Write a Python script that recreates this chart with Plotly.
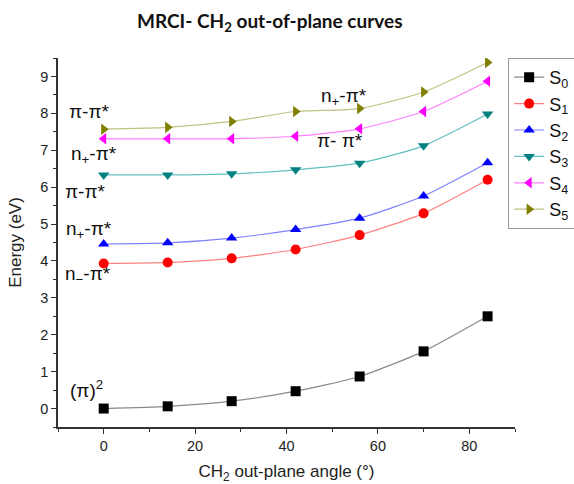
import plotly.graph_objects as go

angles = [0, 14, 28, 42, 56, 70, 84]
S0 = [0.0, 0.06, 0.2, 0.47, 0.87, 1.55, 2.5]
S1 = [3.93, 3.96, 4.07, 4.31, 4.70, 5.29, 6.2]
S2 = [4.46, 4.49, 4.62, 4.85, 5.16, 5.76, 6.66]
S3 = [6.33, 6.33, 6.36, 6.47, 6.65, 7.12, 7.98]
S4 = [7.31, 7.31, 7.31, 7.38, 7.58, 8.05, 8.87]
S5 = [7.57, 7.62, 7.78, 8.05, 8.13, 8.58, 9.38]
series_names = ["S<sub>0</sub>", "S<sub>1</sub>", "S<sub>2</sub>", "S<sub>3</sub>", "S<sub>4</sub>", "S<sub>5</sub>"]

styles = [
    dict(symbol="square", mcolor="#000000", lcolor="#8a8a8a"),
    dict(symbol="circle", mcolor="#ff0000", lcolor="#ff8080"),
    dict(symbol="triangle-up", mcolor="#0000ff", lcolor="#8080ff"),
    dict(symbol="triangle-down", mcolor="#008080", lcolor="#60c0c0"),
    dict(symbol="triangle-left", mcolor="#ff00ff", lcolor="#ff80ff"),
    dict(symbol="triangle-right", mcolor="#808000", lcolor="#c0c080"),
]

fig = go.Figure()
for name, ys, st in zip(series_names, [S0, S1, S2, S3, S4, S5], styles):
    fig.add_trace(go.Scatter(
        x=angles, y=ys, name=name, mode="lines+markers",
        line=dict(color=st["lcolor"], width=1.2, shape="spline", smoothing=0.6),
        marker=dict(symbol=st["symbol"], color=st["mcolor"], size=10, line=dict(width=0)),
    ))

labels = [
    ("π-π*", -3.0, 8.06),
    ("n<sub>+</sub>-π*", -2.2, 6.87),
    ("π-π*", -3.9, 5.87),
    ("n<sub>+</sub>-π*", -3.3, 4.84),
    ("n<sub>−</sub>-π*", -3.5, 3.62),
    ("(π)<sup>2</sup>", -3.7, 0.54),
    ("n<sub>+</sub>-π*", 52.5, 8.45),
    ("π- π*", 51.6, 7.26),
]
for txt, lx, ly in labels:
    fig.add_annotation(x=lx, y=ly, text=txt, showarrow=False,
                       font=dict(family="Liberation Sans, Arial", size=19, color="#111"))

axis_common = dict(
    showline=True, linecolor="#333", linewidth=1.5, mirror=False,
    ticks="outside", ticklen=5, tickwidth=1.3, tickcolor="#333",
    showgrid=False, zeroline=False, automargin=False,
    tickfont=dict(family="Liberation Sans, Arial", size=14.5, color="#222"),
)

fig.update_xaxes(
    range=[-10, 90], dtick=20, tick0=0,
    minor=dict(ticks="outside", ticklen=3, dtick=10, tick0=0, tickcolor="#333", showgrid=False),
    title=dict(text="CH<sub>2</sub> out-plane angle (°)", standoff=12,
               font=dict(family="Liberation Sans, Arial", size=17, color="#222")),
    **axis_common,
)
fig.update_yaxes(
    range=[-0.5, 9.5], dtick=1, tick0=0,
    minor=dict(ticks="outside", ticklen=3, dtick=0.5, tick0=0, tickcolor="#333", showgrid=False),
    title=dict(text="Energy (eV)", standoff=14,
               font=dict(family="Liberation Sans, Arial", size=17, color="#222")),
    **axis_common,
)

fig.update_layout(
    width=574, height=484,
    margin=dict(l=58, r=59, t=58, b=57, autoexpand=False),
    paper_bgcolor="white", plot_bgcolor="white",
    title=dict(text="<b>MRCI- CH<sub>2</sub> out-of-plane curves</b>", x=0.47, xanchor="center",
               y=0.955, yanchor="middle",
               font=dict(family="Lato, Open Sans", size=19, color="#111")),
    legend=dict(x=0.985, y=1.0, xanchor="left", yanchor="top",
                bordercolor="#999", borderwidth=1, bgcolor="white",
                font=dict(family="Liberation Sans, Arial", size=18, color="#111"),
                tracegroupgap=0, itemwidth=30),
    showlegend=True,
)

fig.write_html("out.html")
